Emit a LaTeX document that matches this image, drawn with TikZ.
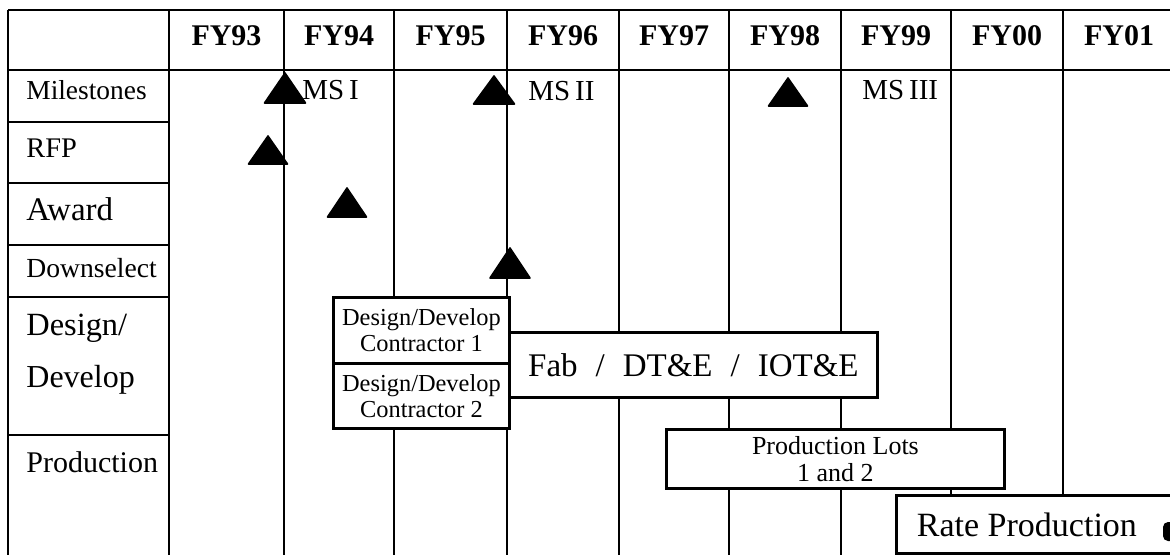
\documentclass[tikz,border=0pt]{standalone}
\usepackage{fontspec}
\setmainfont{Liberation Serif}
\begin{document}
\begin{tikzpicture}[x=0.5pt,y=-0.5pt,
  grid/.style={line width=1pt},
  box/.style={draw, line width=1.4pt, fill=white, inner sep=0pt, anchor=north west, align=center},
  tri/.style={fill=black, draw=black, line width=0.8pt, line join=round},
  hdr/.style={font=\fontsize{15}{17}\selectfont\bfseries, anchor=base, inner sep=0pt},
  lbl/.style={anchor=base west, inner sep=0pt},
  ms/.style={anchor=base west, inner sep=0pt, font=\fontsize{14.5}{16}\selectfont}]
\useasboundingbox (0,0) rectangle (1170,554);
\clip (0,0) rectangle (1170,554);
% grid
\draw[grid] (8,10) -- (1175,10);
\draw[grid] (8,70) -- (1175,70);
\draw[grid] (8,10) -- (8,560);
\draw[grid] (169,10) -- (169,560);
\foreach \y in {122,183,245,297,435} \draw[grid] (8,\y) -- (169,\y);
\foreach \x in {284,394,507,619,729,841,951,1063} \draw[grid] (\x,10) -- (\x,560);
% headers
\node[hdr] (h93) at (226.5,45) {FY93};
\node[hdr] (h94) at (339,45) {FY94};
\node[hdr] (h95) at (450.5,45) {FY95};
\node[hdr] (h96) at (563,45) {FY96};
\node[hdr] (h97) at (674,45) {FY97};
\node[hdr] (h98) at (785,45) {FY98};
\node[hdr] (h99) at (896,45) {FY99};
\node[hdr] (h00) at (1007,45) {FY00};
\node[hdr] (h01) at (1119,45) {FY01};
% row labels
\node[lbl, font=\fontsize{13.7}{15}\selectfont] (lms) at (26,99) {Milestones};
\node[lbl, font=\fontsize{14.2}{16}\selectfont] (lrfp) at (26,157) {RFP};
\node[lbl, font=\fontsize{16.5}{18}\selectfont] (law) at (26,220) {Award};
\node[lbl, font=\fontsize{13.8}{15}\selectfont] (lds) at (26,277) {Downselect};
\node[lbl, font=\fontsize{16.2}{18}\selectfont] (ldd1) at (26,335) {Design/};
\node[lbl, font=\fontsize{16}{18}\selectfont] (ldd2) at (26,387) {Develop};
\node[lbl, font=\fontsize{15}{17}\selectfont] (lpr) at (26,472) {Production};
% triangles
\newcommand\mtri[4]{\fill[tri] (#1-#3/2,#2) -- (#1+#3/2,#2) -- (#1,#2-#4) -- cycle;}
\mtri{285}{103}{41}{30}
\mtri{268}{164}{39}{28}
\mtri{347}{217}{39}{29}
\mtri{494}{104}{41}{28}
\mtri{510}{278}{40}{30}
\mtri{788}{106}{39}{28}
% milestone labels
\node[ms] (ms1) at (302,99) {MS\,I};
\node[ms] (ms2) at (528,100) {MS\,II};
\node[ms] (ms3) at (862,99) {MS\,III};
% bars
\node[box, minimum width=88pt, minimum height=33pt, font=\fontsize{12.2}{13.2}\selectfont] (dd1) at (332,296) {Design/Develop\\Contractor 1};
\node[box, minimum width=88pt, minimum height=32.5pt, font=\fontsize{12.2}{13.2}\selectfont] (dd2) at (332,362) {Design/Develop\\Contractor 2};
\node[box, minimum width=184pt, minimum height=32.5pt, font=\fontsize{16.5}{18}\selectfont] (fab) at (508,331) {Fab\hspace{9pt}/\hspace{9pt}DT\&E\hspace{9pt}/\hspace{9pt}IOT\&E};
\node[box, minimum width=169pt, minimum height=29.5pt, font=\fontsize{13}{13.2}\selectfont] (lots) at (665,428) {Production Lots\\1 and 2};
\node[box, minimum width=142.5pt, minimum height=29pt, font=\fontsize{17}{19}\selectfont] (rate) at (895,494) {Rate Production\hspace{12pt}};
\fill[rounded corners=2.5pt] (1163,541) -- (1163,522) -- (1176,522) -- (1176,541) -- cycle;
\end{tikzpicture}
\end{document}
